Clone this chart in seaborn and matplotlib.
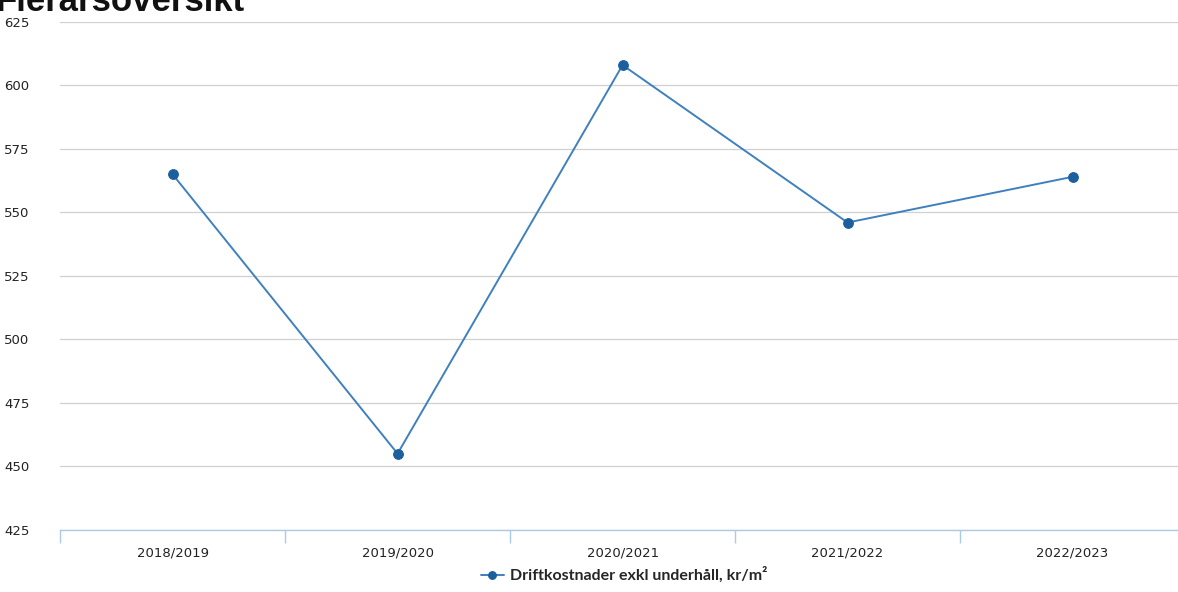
import matplotlib
matplotlib.use("Agg")
import matplotlib.pyplot as plt
import seaborn as sns
import pandas as pd
import numpy as np

# data
periods = ['2018/2019', '2019/2020', '2020/2021', '2021/2022', '2022/2023']
values = [565, 455, 608, 546, 564]
series_name = 'Driftkostnader exkl underhåll, kr/m²'
y_ticks = [425, 450, 475, 500, 525, 550, 575, 600, 625]

df = pd.DataFrame({'period': periods, 'value': values})

sns.set_theme(style='white')
plt.rcParams['font.family'] = ['DejaVu Sans']

fig = plt.figure(figsize=(11.78, 5.92), dpi=100)
ax = fig.add_axes([0.051, 0.105, 0.955, 0.858])

sns.lineplot(data=df, x='period', y='value', ax=ax, color='#3f80bf', linewidth=1.4,
             marker='o', markersize=7, markerfacecolor='#1c5f9c', markeredgecolor='#1c5f9c',
             label=series_name, legend=False)

ax.set_xlim(-0.5, len(periods) - 0.5)
ax.set_ylim(min(y_ticks), max(y_ticks))
ax.set_yticks(y_ticks)
ax.yaxis.grid(True, color='#d0d0d0', linewidth=0.9)
ax.xaxis.grid(False)
for s in ['top', 'right', 'left']:
    ax.spines[s].set_visible(False)
ax.spines['bottom'].set_color('#a9cbe6')
ax.spines['bottom'].set_linewidth(1.0)

# tick marks between the categories
ax.set_xticks(np.arange(-0.5, len(periods), 1.0), minor=True)
ax.tick_params(axis='x', which='minor', bottom=True, length=9, color='#a9cbe6', width=1.0, direction='out')
ax.tick_params(axis='x', which='major', length=0, pad=12, labelsize=9.5, labelcolor='#222222')
ax.tick_params(axis='y', length=0, pad=22, labelsize=9.5, labelcolor='#222222')
ax.set_xlabel('')
ax.set_ylabel('')

handles, labels = ax.get_legend_handles_labels()
fig.legend(handles, labels, loc='center', bbox_to_anchor=(0.53, 1 - 575 / 592), frameon=False,
           prop={'family': 'Lato', 'weight': 'bold', 'size': 11.5}, handlelength=1.4,
           handletextpad=0.4, markerscale=0.8)

# title, partly cut off at top as in the scan
fig.text(-0.004, 1 - 11 / 592, 'Flerårsöversikt', fontsize=25, fontweight='bold',
         family='Liberation Sans', va='baseline', ha='left', color='#111111')

fig.savefig('out.png', dpi=100)
